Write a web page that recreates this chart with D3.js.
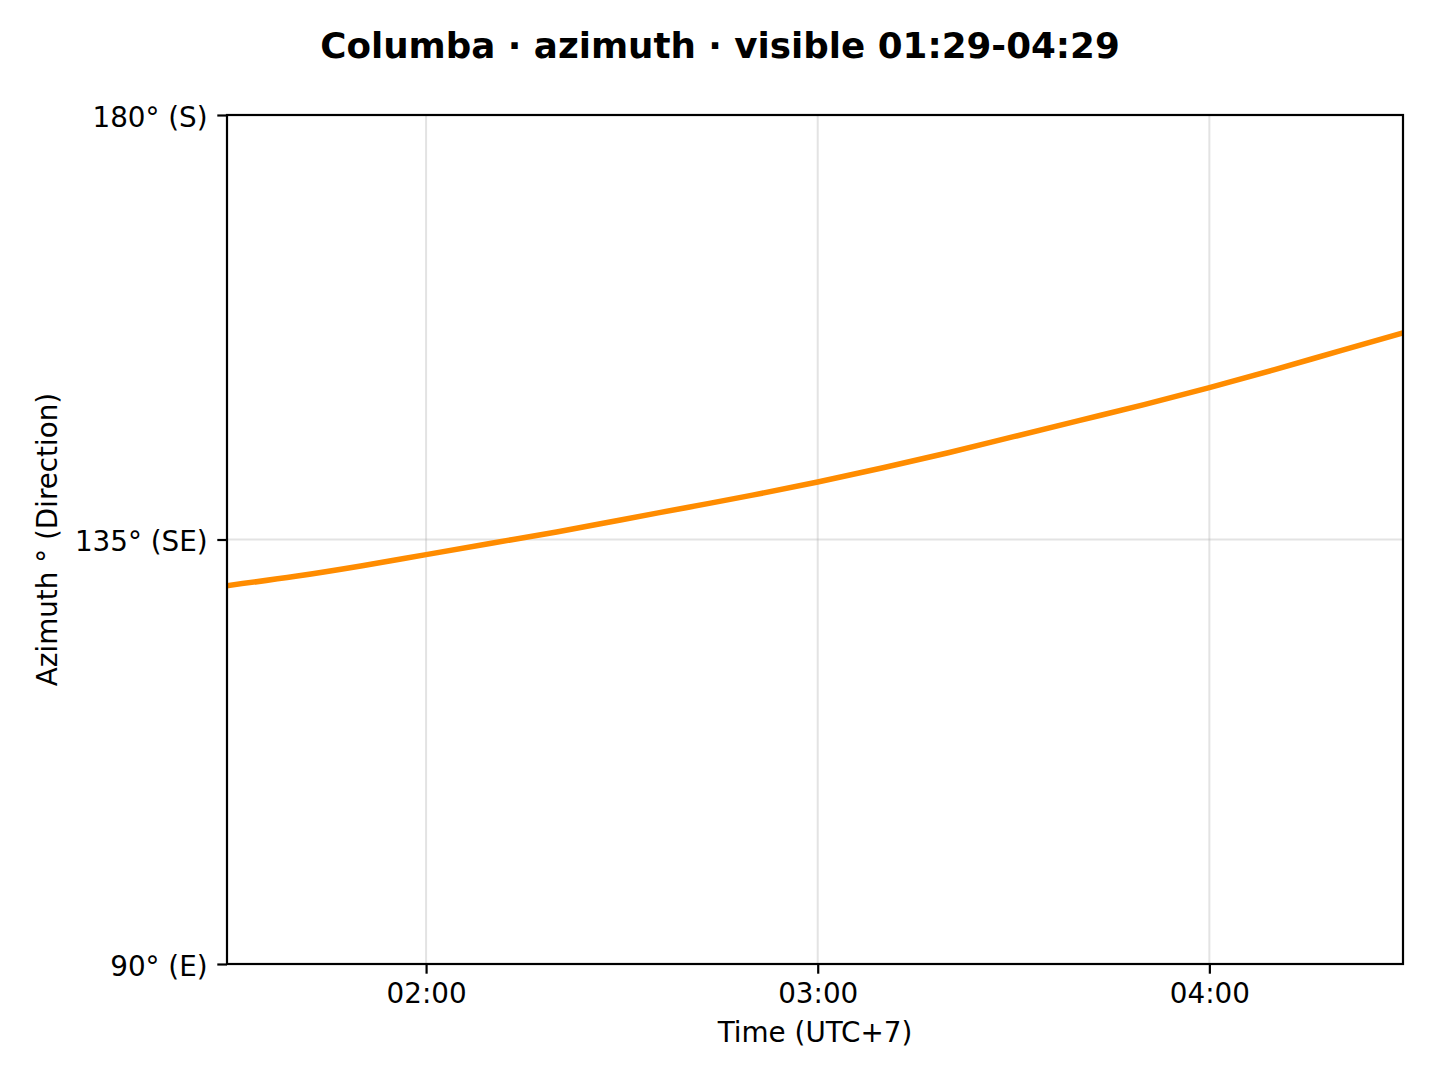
<!DOCTYPE html>
<html>
<head>
<meta charset="utf-8">
<script src="https://cdn.jsdelivr.net/npm/d3@7"></script>
<style>
  html, body { margin: 0; padding: 0; background: #fff; }
  svg { display: block; font-family: "DejaVu Sans", sans-serif; }
</style>
</head>
<body>
<script>
const WIDTH = 1440;
const HEIGHT = 1080;
const margin = {top: 115, right: 37, bottom: 116, left: 227};

// readings, local time (UTC+7)
const times = [
  "01:29:30", "01:40:00", "01:50:00", "02:00:00", "02:10:00", "02:20:00",
  "02:30:00", "02:40:00", "02:50:00", "03:00:00", "03:10:00", "03:20:00",
  "03:30:00", "03:40:00", "03:50:00", "04:00:00", "04:10:00", "04:20:00",
  "04:29:40"
];
const azimuth = [
  130.1, 131.1, 132.2, 133.4, 134.6, 135.8,
  137.1, 138.4, 139.7, 141.1, 142.6, 144.2,
  145.9, 147.6, 149.3, 151.1, 153.0, 155.0,
  156.9
];
const yTicks = [90, 135, 180];
const yTickLabels = ["90° (E)", "135° (SE)", "180° (S)"];
const xTicks = ["02:00:00", "03:00:00", "04:00:00"];

const parse = d3.timeParse("%H:%M:%S");
const data = times.map((t, i) => ({t: parse(t), v: azimuth[i]}));

const svg = d3.select("body").append("svg")
    .attr("width", WIDTH)
    .attr("height", HEIGHT);

const x = d3.scaleTime()
    .domain([parse("01:29:30"), parse("04:29:40")])
    .range([margin.left, WIDTH - margin.right]);

const y = d3.scaleLinear()
    .domain([90, 180])
    .range([HEIGHT - margin.bottom, margin.top]);

const plotW = WIDTH - margin.left - margin.right;
const plotH = HEIGHT - margin.top - margin.bottom;

// grid
const grid = svg.append("g").attr("stroke", "#b0b0b0").attr("stroke-opacity", 0.35).attr("stroke-width", 2);
grid.selectAll(".gx").data(xTicks).enter().append("line")
    .attr("x1", d => x(parse(d))).attr("x2", d => x(parse(d)))
    .attr("y1", margin.top).attr("y2", HEIGHT - margin.bottom);
grid.selectAll(".gy").data(yTicks).enter().append("line")
    .attr("y1", d => y(d)).attr("y2", d => y(d))
    .attr("x1", margin.left).attr("x2", WIDTH - margin.right);

// curve
svg.append("clipPath").attr("id", "clip")
  .append("rect")
    .attr("x", margin.left).attr("y", margin.top)
    .attr("width", plotW).attr("height", plotH);

svg.append("path")
    .datum(data)
    .attr("clip-path", "url(#clip)")
    .attr("fill", "none")
    .attr("stroke", "#ff8c00")
    .attr("stroke-width", 5.5)
    .attr("stroke-linecap", "square")
    .attr("d", d3.line().x(d => x(d.t)).y(d => y(d.v)).curve(d3.curveMonotoneX));

// axes
const xAxis = svg.append("g")
    .attr("transform", `translate(0,${HEIGHT - margin.bottom})`)
    .call(d3.axisBottom(x)
      .tickValues(xTicks.map(parse))
      .tickFormat(d3.timeFormat("%H:%M"))
      .tickSizeOuter(0)
      .tickSize(9.7)
      .tickPadding(9.7));

const yAxis = svg.append("g")
    .attr("transform", `translate(${margin.left},0)`)
    .call(d3.axisLeft(y)
      .tickValues(yTicks)
      .tickFormat((d, i) => yTickLabels[i])
      .tickSizeOuter(0)
      .tickSize(9.7)
      .tickPadding(9.7));

[xAxis, yAxis].forEach(g => {
  g.select(".domain").remove();
  g.selectAll(".tick line").attr("stroke", "#000").attr("stroke-width", 2.2);
  g.selectAll(".tick text")
    .attr("fill", "#000")
    .style("font-size", "27.8px")
    .style("font-family", "DejaVu Sans");
});
yAxis.selectAll(".tick text").attr("dy", "0.4em");

// spines
svg.append("rect")
    .attr("x", margin.left).attr("y", margin.top)
    .attr("width", plotW).attr("height", plotH)
    .attr("fill", "none")
    .attr("stroke", "#000")
    .attr("stroke-width", 2.2);

// labels
svg.append("text")
    .attr("x", margin.left + plotW / 2)
    .attr("y", 1042)
    .attr("text-anchor", "middle")
    .style("font-size", "27.8px")
    .text("Time (UTC+7)");

svg.append("text")
    .attr("transform", `translate(57,${margin.top + plotH / 2}) rotate(-90)`)
    .attr("text-anchor", "middle")
    .style("font-size", "27.8px")
    .text("Azimuth ° (Direction)");

svg.append("text")
    .attr("x", WIDTH / 2)
    .attr("y", 58)
    .attr("text-anchor", "middle")
    .style("font-size", "35.7px")
    .style("font-weight", "bold")
    .text("Columba · azimuth · visible 01:29-04:29");
</script>
</body>
</html>
